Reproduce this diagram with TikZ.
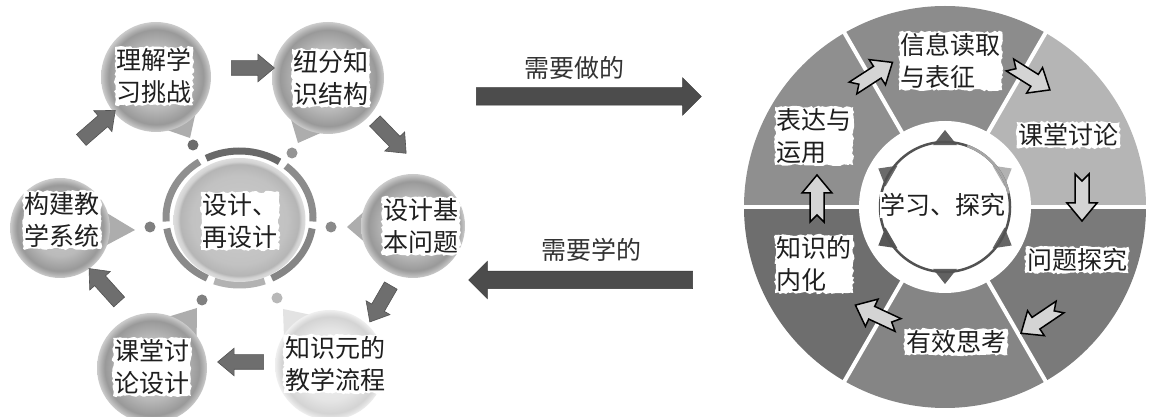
\documentclass[tikz,border=0pt]{standalone}
\usepackage{fontspec}
\setmainfont{Noto Sans CJK SC}
\usetikzlibrary{shapes.arrows,calc,decorations.pathmorphing}
\pgfdeclareradialshading{bubsh}{\pgfpoint{0bp}{0bp}}{gray(0bp)=(0.79); gray(14bp)=(0.73); gray(21.5bp)=(0.6); gray(23bp)=(0.68); gray(25bp)=(0.8); gray(50bp)=(0.8)}
\pgfdeclareradialshading{palesh}{\pgfpoint{0bp}{0bp}}{gray(0bp)=(0.95); gray(16bp)=(0.9); gray(22bp)=(0.83); gray(23.5bp)=(0.88); gray(25bp)=(0.94); gray(50bp)=(0.94)}
\pgfdeclareradialshading{coresh}{\pgfpoint{0bp}{0bp}}{gray(0bp)=(0.8); gray(18bp)=(0.76); gray(22.5bp)=(0.71); gray(23.5bp)=(0.82); gray(25bp)=(0.87); gray(50bp)=(0.87)}
\newcommand\mybubble[5]{%
  \fill[#4tail] (#3) -- ($(#1)!#5!24:(#3)$) -- ($(#1)!#5!-24:(#3)$) -- cycle;
  \shade[shading=#4] (#1) circle (#2);
}
\begin{document}
\begin{tikzpicture}[x=1pt,y=1pt,
  txt/.style={font=\fontsize{25}{32}\selectfont, text=black!88, align=left},
  torn/.style={txt, fill=white, inner sep=1.5pt, decorate,
    decoration={random steps, segment length=2.5pt, amplitude=1.2pt}},
  garrow/.style={single arrow, fill=black!57, draw=black!68, line width=0.6pt,
    minimum width=27pt, single arrow head extend=6.5pt, single arrow tip angle=80,
    inner xsep=0pt, inner ysep=7pt},
  bigarrow/.style={single arrow, fill=black!70, draw=black!78, line width=0.5pt,
    minimum width=37pt, single arrow head extend=10pt, single arrow tip angle=90,
    inner xsep=0pt, inner ysep=8.5pt},
  ringdot/.style={circle, inner sep=0pt, minimum size=11pt},
  bubshtail/.style={fill=black!32},
  paleshtail/.style={fill=black!11},
  notcharrow/.pic={\filldraw[fill=black!17, draw=black, line width=1.5pt, line join=miter]
    (0,-7) -- (29,-7) -- (29,-15) -- (47,0) -- (29,15) -- (29,7) -- (0,7) -- (7,0) -- cycle;}
]
\pgfmathsetseed{7}
\useasboundingbox (0,0) rectangle (1149,417);
\clip (0,0) rectangle (1149,417);
\fill[white] (0,0) rectangle (1149,417);

% ---------- left cycle ----------
\coordinate (C) at (239.5,199);
\foreach \a/\b/\c in {-3/51/45,57/117/59,123/183/44,189/244/46,250/290/30,296/351/48}
  \draw[line width=7pt, draw=black!\c] ($(C)+(\a:73.5 and 67)$)
    arc[start angle=\a, end angle=\b, x radius=73.5, y radius=67];
\shade[shading=coresh] (239.5,197) ellipse [x radius=66, y radius=62];

\node[ringdot, fill=black!58] (d1) at (193,272) {};
\node[ringdot, fill=black!42] (d2) at (292,264) {};
\node[ringdot, fill=black!50] (d3) at (150,190) {};
\node[ringdot, fill=black!46] (d4) at (331,190) {};
\node[ringdot, fill=black!50] (d5) at (202,117) {};
\node[ringdot, fill=black!28] (d6) at (277,119) {};

\mybubble{156,340}{55}{190,279}{bubsh}{51pt}
\mybubble{328,339}{56}{298,274}{bubsh}{52pt}
\mybubble{413,191}{52}{347,190}{bubsh}{48pt}
\mybubble{330,52}{55}{283,108}{palesh}{51pt}
\mybubble{152,49}{55}{197,109}{bubsh}{51pt}
\mybubble{60,189}{50}{135,187}{bubsh}{46pt}

\node[garrow, minimum height=45pt, rotate=41]   (a1) at (95,289) {};
\node[garrow, minimum height=43pt, rotate=0]    (a2) at (248.5,349) {};
\node[garrow, minimum height=45pt, rotate=-46]  (a3) at (387.5,283) {};
\node[garrow, minimum height=42pt, rotate=-120] (a4) at (382.5,117) {};
\node[garrow, minimum height=46pt, rotate=180]  (a5) at (245,55) {};
\node[garrow, minimum height=45pt, rotate=132]  (a6) at (107,128.5) {};

\node[torn] (core) at (240,196) {设计、\\再设计};
\node[torn] (b1) at (154,341) {理解学\\习挑战};
\node[torn] (b2) at (331,339) {纽分知\\识结构};
\node[torn] (b3) at (421,191) {设计基\\本问题};
\node[torn] (b4) at (335,53) {知识元的\\教学流程};
\node[torn] (b5) at (152,50) {课堂讨\\论设计};
\node[torn] (b6) at (62,197) {构建教\\学系统};

% ---------- middle ----------
\node[bigarrow, minimum height=225pt] (doarrow) at (584.5,320.5) {};
\node[txt, text=black!80] (dotext) at (574,349) {需要做的};
\node[bigarrow, minimum height=224pt, minimum width=36pt, rotate=180] (learnarrow) at (585,137) {};
\node[txt, text=black!80] (learntext) at (591,167) {需要学的};

% ---------- right wheel ----------
\coordinate (W) at (945,210);
\foreach \a/\c in {0/29,60/45,120/44,180/57,240/48,300/52}
  \fill[black!\c] (W) -- ($(W)+(\a:201)$) arc[start angle=\a, end angle=\a+60, radius=201] -- cycle;
\foreach \a in {0,60,...,300}
  \draw[white, line width=4pt] ($(W)+(\a:80)$) -- ($(W)+(\a:206)$);
\fill[white] (W) circle (86);
\foreach \a/\c in {90/62,150/58,210/66,270/62,330/60,30/30}
  \fill[black!\c] ($(W)+(\a-11:63)$) -- ($(W)+(\a:77)$) -- ($(W)+(\a+11:63)$) -- cycle;
\draw[line width=2.5pt, draw=black!68] (W) circle (65);
\draw[line width=2.5pt, draw=black!35] ($(W)+(12:65)$) arc[start angle=12, end angle=70, radius=65];

\pic[rotate=33]   at (853,329) {notcharrow};
\pic[rotate=-32]  at (1010,352) {notcharrow};
\pic[rotate=-90]  at (1082,243) {notcharrow};
\pic[rotate=-146] at (1060,110) {notcharrow};
\pic[rotate=155]  at (898,92) {notcharrow};
\pic[rotate=90]   at (817,195) {notcharrow};

\node[txt, fill=white, inner sep=1pt] (hub) at (943,212) {学习、探究};
\node[torn, anchor=west] (w1) at (899,356) {信息读取\\与表征};
\node[torn] (w2) at (1068,282) {课堂讨论};
\node[torn] (w3) at (1077,157) {问题探究};
\node[torn] (w4) at (956,75) {有效思考};
\node[torn, anchor=west] (w5) at (775,153) {知识的\\内化};
\node[torn, anchor=west] (w6) at (775,281) {表达与\\运用};
\end{tikzpicture}
\end{document}
